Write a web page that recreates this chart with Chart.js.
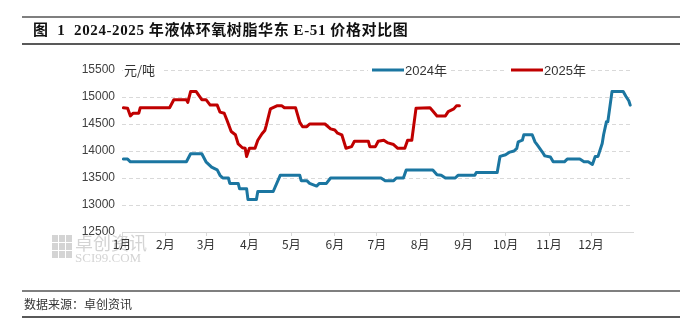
<!DOCTYPE html>
<html>
<head>
<meta charset="utf-8">
<script src="https://cdn.jsdelivr.net/npm/chart.js"></script>
<style>
  body { margin: 0; background: #fff; }
  #wrap { position: relative; width: 699px; height: 331px; overflow: hidden; }
  #c { position: absolute; left: 0; top: 0; }
  .rule { position: absolute; left: 22px; width: 658px; }
  #title { top: 16px; height: 25px; border-top: 2px solid #7f7f7f; border-bottom: 2px solid #595959;
    font: bold 15px "Liberation Serif", "Noto Sans CJK SC", serif; color: #111; line-height: 25px; padding-left: 11px;
    box-sizing: content-box; width: 647px; white-space: pre; letter-spacing: 0.6px; }
  #source { top: 290px; height: 24px; border-top: 2px solid #7f7f7f; border-bottom: 2px solid #595959;
    font: 12px "Noto Sans CJK SC", sans-serif; color: #333; line-height: 24px; padding-left: 2px; width: 656px; }
</style>
</head>
<body>
<div id="wrap">
  <canvas id="c" width="699" height="331"></canvas>
  <div id="title" class="rule">图  1  2024-2025 年液体环氧树脂华东 E-51 价格对比图</div>
  <div id="source" class="rule">数据来源：卓创资讯</div>
</div>
<script>
// x values are day of year
const monthLabels = ['1月', '2月', '3月', '4月', '5月', '6月', '7月', '8月', '9月', '10月', '11月', '12月'];
const monthStarts = [0, 31, 60, 91, 121, 152, 182, 213, 244, 274, 305, 335];

const days2024 = [1, 4, 6, 46, 49, 57, 60, 64, 68, 70, 72, 76, 77, 83, 84, 89, 90, 96, 97, 108, 113, 127, 128, 132, 134, 139, 141, 146, 149,
  185, 188, 194, 196, 201, 203, 222, 225, 228, 231, 238, 240, 252, 253, 268, 270, 274, 277, 280, 282, 283, 286, 287, 293, 295, 297,
  300, 302, 306, 308, 316, 318, 327, 330, 333, 336, 338, 340, 343, 344, 346, 347, 350, 358, 360, 362, 363];
const price2024 = [13850, 13850, 13800, 13800, 13950, 13950, 13800, 13700, 13650, 13550, 13500, 13500, 13400, 13400, 13300, 13300, 13100, 13100, 13250, 13250, 13550, 13550, 13450, 13450, 13400, 13350, 13400, 13400, 13500,
  13500, 13450, 13450, 13500, 13500, 13650, 13650, 13560, 13550, 13500, 13500, 13550, 13550, 13600, 13600, 13900, 13930, 13980, 14000, 14050, 14170, 14200, 14300, 14300, 14170, 14100,
  13990, 13910, 13890, 13800, 13800, 13850, 13850, 13800, 13800, 13750, 13900, 13900, 14140, 14300, 14540, 14540, 15100, 15100, 15010, 14930, 14850];

const days2025 = [1, 4, 6, 8, 12, 13, 34, 37, 46, 47, 49, 53, 57, 60, 63, 68, 70, 73, 75, 78, 81, 83, 86, 88, 89, 91, 95, 97, 100, 102, 103,
  106, 111, 114, 116, 124, 127, 129, 132, 134, 145, 149, 152, 154, 157, 160, 164, 166, 176, 177, 181, 183, 187, 190, 194, 197, 202,
  204, 207, 210, 220, 222, 225, 231, 233, 237, 239, 241];
const price2025 = [14800, 14790, 14650, 14700, 14700, 14800, 14800, 14950, 14950, 14900, 15100, 15100, 14950, 14950, 14850, 14850, 14720, 14700, 14570, 14360, 14300, 14130, 14060, 14050, 13900, 14050, 14050, 14200, 14320, 14380, 14470,
  14780, 14840, 14840, 14800, 14800, 14530, 14450, 14450, 14500, 14500, 14410, 14390, 14330, 14300, 14050, 14080, 14180, 14180, 14080, 14080, 14180, 14200, 14150, 14120, 14050, 14050,
  14200, 14200, 14790, 14800, 14740, 14650, 14650, 14730, 14780, 14840, 14840];

const seriesNames = ['2024年', '2025年'];
const seriesColors = ['#1b76a1', '#c00000'];

const toPoints = (xs, ys) => xs.map((x, i) => ({ x: x, y: ys[i] }));

const extras = {
  id: 'extras',
  beforeDraw(chart) {
    const ctx = chart.ctx;
    ctx.save();
    // faint logo watermark
    ctx.fillStyle = '#d4d4d4';
    for (let r = 0; r < 3; r++) {
      for (let k = 0; k < 3; k++) {
        ctx.fillRect(52 + k * 7, 235 + r * 8, 6, 7);
      }
    }
    ctx.font = '18px "Noto Sans CJK SC"';
    ctx.textBaseline = 'middle';
    ctx.fillText('卓创资讯', 75, 243);
    ctx.font = '13px "Liberation Serif"';
    ctx.fillText('SCI99.COM', 75, 259);
    ctx.restore();
  },
  afterDraw(chart) {
    const ctx = chart.ctx;
    const top = chart.chartArea.top;
    ctx.save();
    ctx.textBaseline = 'middle';
    // unit label
    ctx.font = '13px "Noto Sans CJK SC"';
    ctx.fillStyle = '#fff';
    ctx.fillRect(123, top - 8, 38, 16);
    ctx.fillStyle = '#333';
    ctx.fillText('元/吨', 124, top);
    // legend
    const spots = [372, 511];
    chart.data.datasets.forEach((ds, i) => {
      const x = spots[i];
      ctx.fillStyle = '#fff';
      ctx.fillRect(x - 4, top - 8, 82, 16);
      ctx.strokeStyle = ds.borderColor;
      ctx.lineWidth = 3;
      ctx.beginPath();
      ctx.moveTo(x, top);
      ctx.lineTo(x + 32, top);
      ctx.stroke();
      ctx.fillStyle = '#333';
      ctx.font = '13px "Liberation Sans", "Noto Sans CJK SC"';
      ctx.fillText(ds.label, x + 33, top + 1);
    });
    ctx.restore();
  }
};

new Chart(document.getElementById('c'), {
  type: 'line',
  data: {
    datasets: [
      { label: seriesNames[0], data: toPoints(days2024, price2024), borderColor: seriesColors[0] },
      { label: seriesNames[1], data: toPoints(days2025, price2025), borderColor: seriesColors[1] }
    ]
  },
  options: {
    responsive: false,
    animation: false,
    layout: { padding: { left: 0, top: 70, right: 66, bottom: 0 } },
    elements: {
      line: { borderWidth: 3, tension: 0, borderJoinStyle: 'round', borderCapStyle: 'round', fill: false },
      point: { radius: 0 }
    },
    plugins: { legend: { display: false }, tooltip: { enabled: false } },
    scales: {
      x: {
        type: 'linear',
        min: 0,
        max: 365,
        afterBuildTicks(scale) { scale.ticks = monthStarts.map(v => ({ value: v })); },
        afterFit(scale) { scale.height = 99; },
        grid: { drawOnChartArea: false, drawTicks: true, tickLength: 4, color: '#d9d9d9' },
        border: { display: true, color: '#d9d9d9' },
        ticks: {
          autoSkip: false,
          maxRotation: 0,
          padding: 1,
          color: '#333',
          font: { size: 12, family: '"Noto Sans CJK SC"' },
          callback: v => monthLabels[monthStarts.indexOf(v)]
        }
      },
      y: {
        min: 12500,
        max: 15500,
        afterFit(scale) { scale.width = 122; },
        grid: { color: '#d9d9d9', drawTicks: false },
        border: { display: false, dash: [4, 3] },
        ticks: {
          stepSize: 500,
          padding: 7,
          color: '#404040',
          font: { size: 12, family: '"Liberation Sans"' },
          callback: v => String(v)
        }
      }
    }
  },
  plugins: [extras]
});
</script>
</body>
</html>
